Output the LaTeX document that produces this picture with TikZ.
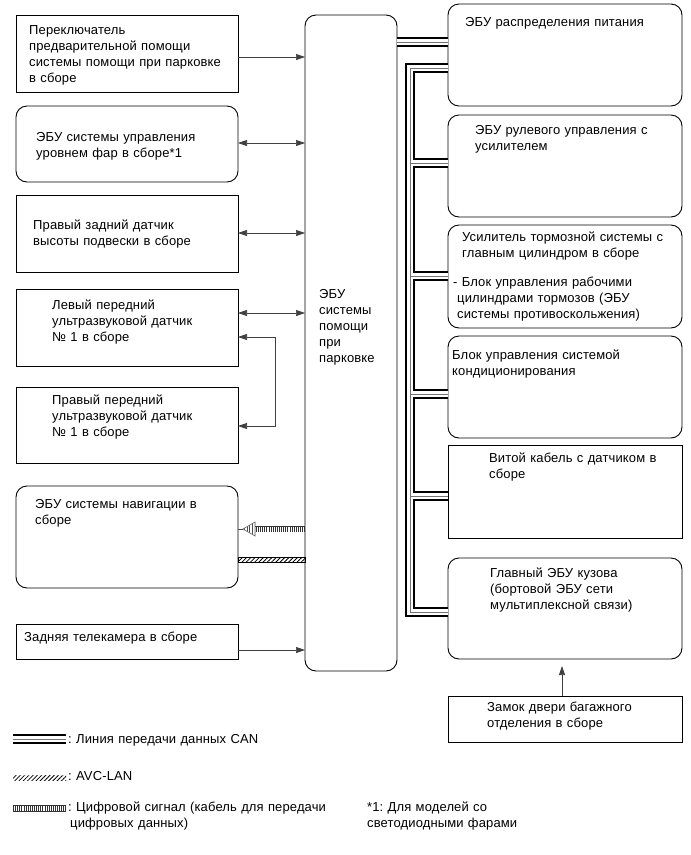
\documentclass[tikz,border=0pt]{standalone}
\usepackage{fontspec}
\setmainfont{Liberation Sans}[LetterSpace=1]
\frenchspacing
\usetikzlibrary{arrows.meta,patterns,patterns.meta}
\begin{document}
\begin{tikzpicture}[x=1pt,y=-1pt,
  box/.style={draw, line width=0.9pt, anchor=north west, inner sep=0pt, outer sep=0pt},
  rbox/.style={box, rounded corners=11pt},
  txt/.style={anchor=base west, inner sep=0pt, align=left, text width=260pt, font=\fontsize{13}{16}\selectfont\frenchspacing},
  arr/.style={line width=0.7pt, black!75, -{Triangle[length=9pt,width=6pt]}},
  barr/.style={line width=0.7pt, black!75, {Triangle[length=9pt,width=6pt]}-{Triangle[length=9pt,width=6pt]}},
  can/.style={line width=10pt, black, postaction={draw, white, line width=6pt}, postaction={draw, black!55, line width=1pt}},
  digital/.style={line width=6.5pt, black!80, postaction={draw, white, line width=5pt}, postaction={draw, black!80, line width=5pt, dash pattern=on 0.8pt off 1.3pt}},
  avc/.style={pattern={Lines[angle=45,distance=3pt,line width=0.8pt]}}
]
\useasboundingbox (0,0) rectangle (691,855);

% left boxes
\node[box,  minimum width=222pt, minimum height=77pt]  (b1)  at (16,15) {};
\node[rbox, minimum width=222pt, minimum height=76pt]  (b2)  at (16,106) {};
\node[box,  minimum width=222pt, minimum height=77pt]  (b3)  at (16,195) {};
\node[box,  minimum width=222pt, minimum height=77pt]  (b4)  at (16,289) {};
\node[box,  minimum width=222pt, minimum height=76pt]  (b5)  at (16,387) {};
\node[rbox, minimum width=222pt, minimum height=102pt] (nav) at (16,486) {};
\node[box,  minimum width=222pt, minimum height=35pt]  (cam) at (16,624) {};
% central ECU
\node[rbox, minimum width=92pt, minimum height=656pt] (ecu) at (305,15) {};
% right boxes
\node[rbox, minimum width=234pt, minimum height=102pt] (r1) at (448,4) {};
\node[rbox, minimum width=234pt, minimum height=102pt] (r2) at (448,115) {};
\node[rbox, minimum width=234pt, minimum height=103pt] (r3) at (448,225) {};
\node[rbox, minimum width=234pt, minimum height=102pt] (r4) at (448,336) {};
\node[box,  minimum width=234pt, minimum height=93pt]  (r5) at (448,445) {};
\node[rbox, minimum width=234pt, minimum height=101pt] (r6) at (448,558) {};
\node[box,  minimum width=234pt, minimum height=46pt]  (r7) at (448,696) {};

% texts
\node[txt] (b1t) at (29,34) {Переключатель\\предварительной помощи\\системы помощи при парковке\\в сборе};
\node[txt] (b2t) at (36,141) {ЭБУ системы управления\\уровнем фар в сборе*1};
\node[txt] (b3t) at (33,229) {Правый задний датчик\\высоты подвески в сборе};
\node[txt] (b4t) at (52,309) {Левый передний\\ультразвуковой датчик\\№ 1 в сборе};
\node[txt] (b5t) at (52,404) {Правый передний\\ультразвуковой датчик\\№ 1 в сборе};
\node[txt] (navt) at (35,508) {ЭБУ системы навигации в\\сборе};
\node[txt] (camt) at (24,641) {Задняя телекамера в сборе};
\node[txt] (ecut) at (319,298) {ЭБУ\\системы\\помощи\\при\\парковке};
\node[txt] (r1t) at (465,26) {ЭБУ распределения питания};
\node[txt] (r2t) at (475,134) {ЭБУ рулевого управления с\\усилителем};
\node[txt] (r3t) at (453,241) {\hspace*{9pt}Усилитель тормозной системы с\\\hspace*{9pt}главным цилиндром в сборе\\[13pt]- Блок управления рабочими\\\hspace*{4pt}цилиндрами тормозов (ЭБУ\\\hspace*{4pt}системы противоскольжения)};
\node[txt] (r4t) at (452,359) {Блок управления системой\\кондиционирования};
\node[txt] (r5t) at (489,462) {Витой кабель с датчиком в\\сборе};
\node[txt] (r6t) at (490,577) {Главный ЭБУ кузова\\(бортовой ЭБУ сети\\мультиплексной связи)};
\node[txt] (r7t) at (487,711) {Замок двери багажного\\отделения в сборе};

% helper coordinates
\coordinate (y42) at (0,42);
\coordinate (y57) at (0,57);
\coordinate (y68) at (0,68);
\coordinate (y143) at (0,143);
\coordinate (y163) at (0,163);
\coordinate (y233) at (0,233);
\coordinate (y276) at (0,276);
\coordinate (y313) at (0,313);
\coordinate (y394) at (0,394);
\coordinate (y426) at (0,426);
\coordinate (y496) at (0,496);
\coordinate (y529) at (0,529);
\coordinate (y612) at (0,612);
\coordinate (y650) at (0,650);
\coordinate (tx) at (410,0);
\coordinate (k) at (275,337);
\coordinate (lx) at (562,0);

% left connectors
\draw[arr]  (b1.east|-y57) -- (ecu.west|-y57);
\draw[barr] (b2.east|-y143) -- (ecu.west|-y143);
\draw[barr] (b3.east|-y233) -- (ecu.west|-y233);
\draw[barr] (b4.east|-y313) -- (ecu.west|-y313);
\draw[barr] (b4.east|-k) -- (k) |- (b5.east|-y426);
\draw[arr]  (cam.east|-y650) -- (ecu.west|-y650);

% digital signal
\coordinate (dh) at (255,529);
\draw[digital] (ecu.west|-y529) -- (dh);
\draw[black!70, line width=0.6pt] (nav.east|-y529) -- (243,529);
\draw[black!60, line width=0.6pt, pattern={Lines[angle=90,distance=2.6pt,line width=0.45pt]}, pattern color=black!70] (255,522) -- (243,529) -- (255,536) -- cycle;

% AVC-LAN
\draw[avc, line width=0.5pt] (nav.east|-0,557) rectangle (ecu.west|-0,562);

% CAN bus
\draw[can] (ecu.east|-y42) -- (r1.west|-y42)
  (r1.west|-y68) -- (tx|-y68) -- (tx|-y612) -- (r6.west|-y612)
  (tx|-y163) -- (r2.west|-y163)
  (tx|-y276) -- (r3.west|-y276)
  (tx|-y394) -- (r4.west|-y394)
  (tx|-y496) -- (r5.west|-y496);

% lock -> body ECU
\draw[arr] (r7.north -| lx) -- ([yshift=-7pt]r6.south -| lx);

% legend
\draw[can] (13,739) -- (66,739);
\node[txt] (l1) at (68,743) {: Линия передачи данных CAN};
\draw[avc, draw=none] (13,775) rectangle (66,780);
\node[txt] (l2) at (68,780) {: AVC-LAN};
\draw[digital] (13,808.5) -- (66,808.5);
\node[txt] (l3) at (68,811) {: Цифровой сигнал (кабель для передачи\\\hspace*{2pt}цифровых данных)};
\node[txt] (l4) at (367,811) {*1: Для моделей со\\светодиодными фарами};
\end{tikzpicture}
\end{document}
